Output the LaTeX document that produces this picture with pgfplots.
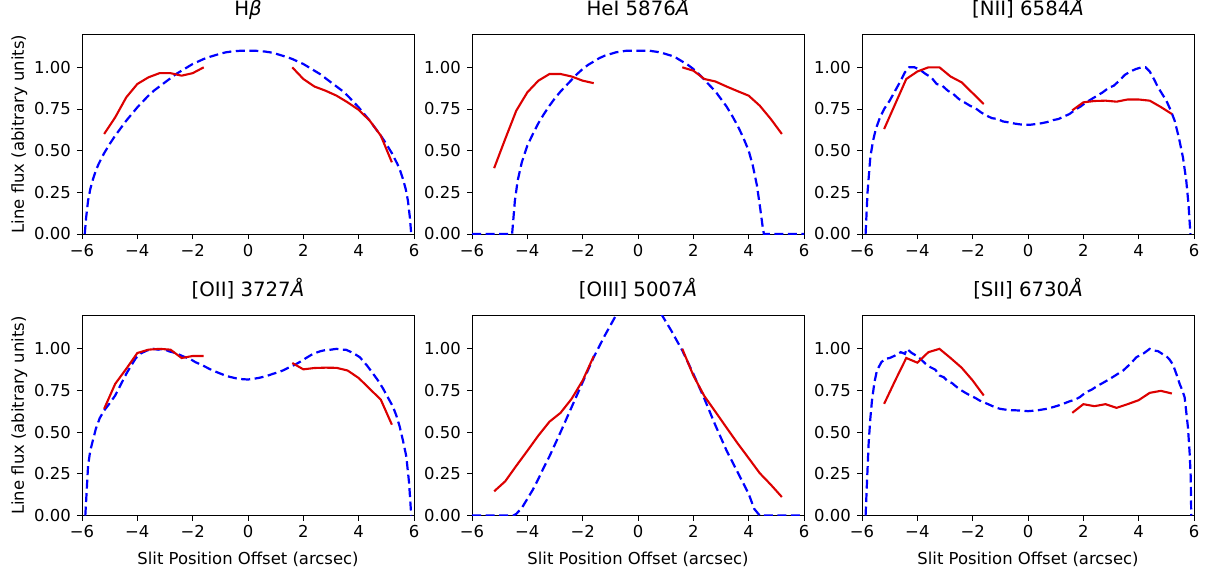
\documentclass[border=0pt]{standalone}
\usepackage{fontspec}
\setmainfont{DejaVu Sans}
\usepackage{pgfplots}
\pgfplotsset{compat=1.18}
\definecolor{myred}{RGB}{220,0,0}
\definecolor{myblue}{RGB}{0,0,255}
\pgfplotsset{
  panel/.style={
    scale only axis, width=332bp, height=200bp,
    xmin=-6, xmax=6, ymin=0, ymax=1.2,
    xtick={-6,-4,-2,0,2,4,6}, xticklabels={−6,−4,−2,0,2,4,6},
    ytick={0,0.25,0.5,0.75,1}, yticklabels={0.00,0.25,0.50,0.75,1.00},
    tick pos=left, tick align=outside, major tick length=5bp,
    axis line style={line width=1bp},
    every tick/.style={black, line width=1bp},
    ticklabel style={font=\fontsize{16.5}{18}\selectfont, inner sep=0pt},
    xticklabel style={anchor=base, yshift=-17bp},
    yticklabel style={anchor=east, xshift=-6bp},
    title style={font=\fontsize{19.8}{22}\selectfont, anchor=base, at={(axis description cs:0.5,1.065)}},
    every axis y label/.style={at={(axis description cs:-0.1747,0.5)}, rotate=90, anchor=base, font=\fontsize{16.5}{18}\selectfont},
    every axis x label/.style={at={(axis description cs:0.5,-0.245)}, anchor=base, font=\fontsize{16.5}{18}\selectfont},
    anchor=south west,
  },
  red line/.style={myred, line width=2.1bp},
  blue line/.style={myblue, line width=2.2bp, dash pattern=on 9bp off 4.5bp},
}
\begin{document}
\begin{tikzpicture}
\useasboundingbox (0,0) rectangle (1209bp,-575bp);
% ---------------- H beta
\begin{axis}[panel, at={(82bp,-234bp)}, title={H{\itshape β}}, ylabel={Line flux (abitrary units)}]
\addplot[blue line] coordinates {(-5.9,0) (-5.85,0.1) (-5.78,0.2) (-5.7,0.27) (-5.6,0.33) (-5.5,0.38) (-5.4,0.42) (-5.2,0.485) (-5.0,0.54) (-4.8,0.59) (-4.6,0.635) (-4.4,0.68) (-4.2,0.72) (-4.0,0.76) (-3.8,0.795) (-3.6,0.83) (-3.4,0.86) (-3.2,0.885) (-3.0,0.91) (-2.8,0.935) (-2.6,0.96) (-2.4,0.98) (-2.2,1.0) (-2.0,1.02) (-1.8,1.035) (-1.6,1.05) (-1.4,1.062) (-1.2,1.072) (-1.0,1.082) (-0.8,1.09) (-0.6,1.095) (-0.4,1.098) (-0.2,1.1) (0,1.1) (0.2,1.1) (0.4,1.098) (0.6,1.095) (0.8,1.09) (1.0,1.082) (1.2,1.072) (1.4,1.062) (1.6,1.05) (1.8,1.035) (2.0,1.02) (2.2,1.0) (2.4,0.98) (2.6,0.96) (2.8,0.935) (3.0,0.91) (3.2,0.885) (3.4,0.86) (3.6,0.83) (3.8,0.795) (4.0,0.76) (4.2,0.72) (4.4,0.68) (4.6,0.635) (4.8,0.59) (5.0,0.54) (5.2,0.485) (5.4,0.42) (5.5,0.38) (5.6,0.33) (5.7,0.27) (5.78,0.2) (5.85,0.1) (5.9,0)};
\addplot[red line] coordinates {(-5.2,0.60) (-4.8,0.70) (-4.4,0.82) (-4.0,0.90) (-3.6,0.94) (-3.2,0.965) (-2.8,0.965) (-2.4,0.95) (-2.0,0.965) (-1.6,1.0)};
\addplot[red line] coordinates {(1.6,1.0) (2.0,0.93) (2.4,0.885) (2.8,0.86) (3.2,0.83) (3.6,0.79) (4.0,0.745) (4.4,0.68) (4.8,0.59) (5.2,0.43)};
\end{axis}
% ---------------- HeI
\begin{axis}[panel, at={(472bp,-234bp)}, title={HeI 5876{\itshape Å}}]
\addplot[blue line] coordinates {(-6,0) (-4.55,0) (-4.5,0.1) (-4.45,0.2) (-4.35,0.32) (-4.2,0.43) (-4.0,0.53) (-3.8,0.6) (-3.6,0.665) (-3.4,0.72) (-3.2,0.77) (-3.0,0.815) (-2.8,0.855) (-2.6,0.89) (-2.4,0.925) (-2.2,0.96) (-2.0,0.99) (-1.8,1.015) (-1.6,1.035) (-1.4,1.055) (-1.2,1.07) (-1.0,1.08) (-0.8,1.09) (-0.6,1.095) (-0.4,1.1) (-0.2,1.1) (0,1.1) (0.2,1.1) (0.4,1.1) (0.6,1.095) (0.8,1.09) (1.0,1.08) (1.2,1.07) (1.4,1.055) (1.6,1.035) (1.8,1.015) (2.0,0.99) (2.2,0.96) (2.4,0.925) (2.6,0.89) (2.8,0.855) (3.0,0.81) (3.2,0.765) (3.4,0.71) (3.6,0.65) (3.8,0.58) (4.0,0.50) (4.15,0.41) (4.3,0.29) (4.42,0.15) (4.5,0.05) (4.55,0) (6,0)};
\addplot[red line] coordinates {(-5.2,0.395) (-4.8,0.57) (-4.4,0.74) (-4.0,0.85) (-3.6,0.92) (-3.2,0.96) (-2.8,0.96) (-2.4,0.945) (-2.0,0.92) (-1.6,0.905)};
\addplot[red line] coordinates {(1.6,1.0) (2.0,0.98) (2.4,0.93) (2.8,0.915) (3.2,0.885) (3.6,0.857) (4.0,0.83) (4.4,0.77) (4.8,0.69) (5.2,0.60)};
\end{axis}
% ---------------- [NII]
\begin{axis}[panel, at={(862bp,-234bp)}, title={[NII] 6584{\itshape Å}}]
\addplot[blue line] coordinates {(-5.87,0) (-5.8,0.25) (-5.7,0.46) (-5.6,0.56) (-5.5,0.63) (-5.35,0.70) (-5.2,0.75) (-5.0,0.80) (-4.8,0.86) (-4.6,0.92) (-4.45,0.97) (-4.3,1.0) (-4.1,1.0) (-3.9,0.985) (-3.7,0.96) (-3.5,0.94) (-3.3,0.9) (-3.1,0.89) (-2.9,0.86) (-2.7,0.84) (-2.5,0.81) (-2.3,0.79) (-2.1,0.77) (-1.9,0.755) (-1.7,0.73) (-1.5,0.71) (-1.3,0.695) (-1.1,0.69) (-0.9,0.675) (-0.7,0.67) (-0.5,0.663) (-0.3,0.658) (-0.1,0.655) (0.1,0.656) (0.3,0.66) (0.5,0.665) (0.7,0.672) (0.9,0.683) (1.1,0.69) (1.3,0.705) (1.5,0.72) (1.7,0.745) (1.9,0.765) (2.1,0.79) (2.3,0.81) (2.5,0.83) (2.7,0.85) (2.9,0.875) (3.1,0.89) (3.3,0.92) (3.5,0.955) (3.7,0.975) (3.9,0.99) (4.1,1.0) (4.25,1.0) (4.4,0.975) (4.55,0.93) (4.7,0.88) (4.85,0.84) (5.0,0.8) (5.15,0.745) (5.3,0.68) (5.45,0.58) (5.6,0.46) (5.72,0.32) (5.8,0.18) (5.87,0)};
\addplot[red line] coordinates {(-5.2,0.63) (-4.8,0.78) (-4.4,0.93) (-4.0,0.975) (-3.6,1.0) (-3.2,1.0) (-2.8,0.945) (-2.4,0.91) (-2.0,0.845) (-1.6,0.78)};
\addplot[red line] coordinates {(1.6,0.742) (2.0,0.79) (2.4,0.798) (2.8,0.80) (3.2,0.794) (3.6,0.807) (4.0,0.807) (4.4,0.80) (4.8,0.762) (5.2,0.72)};
\end{axis}
% ---------------- [OII]
\begin{axis}[panel, at={(82bp,-515.5bp)}, title={[OII] 3727{\itshape Å}}, ylabel={Line flux (abitrary units)}, xlabel={Slit Position Offset (arcsec)}]
\addplot[blue line] coordinates {(-5.88,0) (-5.83,0.15) (-5.78,0.30) (-5.7,0.39) (-5.6,0.455) (-5.5,0.52) (-5.36,0.584) (-5.2,0.63) (-5.0,0.673) (-4.8,0.72) (-4.64,0.772) (-4.4,0.85) (-4.22,0.90) (-4.05,0.945) (-3.86,0.974) (-3.65,0.99) (-3.43,1.0) (-3.25,0.995) (-3.07,1.0) (-2.85,0.985) (-2.6,0.974) (-2.35,0.955) (-2.11,0.941) (-1.9,0.92) (-1.63,0.90) (-1.4,0.88) (-1.14,0.861) (-0.9,0.845) (-0.66,0.832) (-0.4,0.822) (-0.2,0.818) (0,0.816) (0.2,0.82) (0.4,0.826) (0.66,0.836) (0.9,0.85) (1.1,0.86) (1.27,0.871) (1.5,0.89) (1.7,0.905) (1.87,0.921) (2.1,0.945) (2.35,0.97) (2.6,0.985) (2.83,0.994) (3.0,0.995) (3.19,1.0) (3.4,0.995) (3.55,0.994) (3.8,0.975) (4.04,0.95) (4.3,0.9) (4.52,0.851) (4.7,0.81) (4.88,0.762) (5.05,0.71) (5.24,0.653) (5.36,0.60) (5.48,0.535) (5.6,0.45) (5.72,0.356) (5.82,0.2) (5.9,0)};
\addplot[red line] coordinates {(-5.2,0.64) (-4.8,0.79) (-4.4,0.88) (-4.0,0.975) (-3.6,0.995) (-3.2,1.0) (-2.8,0.995) (-2.4,0.945) (-2.0,0.957) (-1.6,0.957)};
\addplot[red line] coordinates {(1.6,0.915) (2.0,0.877) (2.4,0.885) (2.8,0.887) (3.2,0.886) (3.6,0.87) (4.0,0.825) (4.4,0.76) (4.8,0.695) (5.2,0.545)};
\end{axis}
% ---------------- [OIII]
\begin{axis}[panel, at={(472bp,-515.5bp)}, title={[OIII] 5007{\itshape Å}}, xlabel={Slit Position Offset (arcsec)}]
\addplot[blue line] coordinates {(-6,0) (-4.5,0) (-4.4,0.01) (-4.2,0.045) (-4.0,0.10) (-3.8,0.155) (-3.6,0.22) (-3.4,0.29) (-3.2,0.355) (-2.8,0.50) (-2.4,0.65) (-2.0,0.80) (-1.6,0.95) (-1.2,1.08) (-0.8,1.2) (-0.4,1.32) (0,1.36) (0.4,1.32) (0.8,1.22) (1.2,1.11) (1.6,0.99) (2.0,0.85) (2.4,0.70) (2.8,0.54) (3.2,0.39) (3.6,0.26) (4.0,0.13) (4.2,0.04) (4.4,0.0) (6,0)};
\addplot[red line] coordinates {(-5.2,0.145) (-4.8,0.205) (-4.4,0.298) (-4.0,0.388) (-3.6,0.48) (-3.2,0.563) (-2.8,0.616) (-2.4,0.70) (-2.0,0.81) (-1.6,0.956)};
\addplot[red line] coordinates {(1.6,1.0) (2.0,0.84) (2.4,0.716) (2.8,0.622) (3.2,0.527) (3.6,0.433) (4.0,0.344) (4.4,0.254) (4.8,0.185) (5.2,0.111)};
\end{axis}
% ---------------- [SII]
\begin{axis}[panel, at={(862bp,-515.5bp)}, title={[SII] 6730{\itshape Å}}, xlabel={Slit Position Offset (arcsec)}]
\addplot[blue line] coordinates {(-5.87,0) (-5.82,0.2) (-5.76,0.433) (-5.7,0.58) (-5.64,0.69) (-5.55,0.8) (-5.46,0.87) (-5.3,0.92) (-5.16,0.94) (-5.0,0.945) (-4.8,0.96) (-4.6,0.98) (-4.45,0.97) (-4.38,1.0) (-4.2,0.975) (-4.0,0.955) (-3.89,0.94) (-3.7,0.91) (-3.53,0.89) (-3.35,0.875) (-3.2,0.84) (-3.05,0.83) (-2.9,0.805) (-2.75,0.795) (-2.57,0.77) (-2.4,0.75) (-2.25,0.735) (-2.09,0.72) (-1.9,0.705) (-1.75,0.69) (-1.61,0.68) (-1.4,0.665) (-1.2,0.65) (-1.01,0.64) (-0.8,0.635) (-0.6,0.632) (-0.29,0.63) (0,0.626) (0.3,0.63) (0.67,0.64) (0.9,0.65) (1.1,0.66) (1.27,0.67) (1.5,0.685) (1.7,0.695) (1.87,0.71) (2.1,0.74) (2.3,0.755) (2.48,0.775) (2.7,0.795) (2.96,0.82) (3.2,0.845) (3.44,0.87) (3.7,0.91) (3.92,0.95) (4.2,0.975) (4.4,1.0) (4.55,0.99) (4.7,0.986) (4.85,0.97) (5.0,0.956) (5.12,0.935) (5.24,0.905) (5.36,0.85) (5.48,0.79) (5.58,0.75) (5.66,0.71) (5.72,0.62) (5.78,0.53) (5.84,0.38) (5.88,0.235) (5.9,0)};
\addplot[red line] coordinates {(-5.2,0.67) (-4.8,0.81) (-4.4,0.945) (-4.0,0.917) (-3.6,0.98) (-3.2,1.0) (-2.8,0.945) (-2.4,0.887) (-2.0,0.81) (-1.6,0.72)};
\addplot[red line] coordinates {(1.6,0.616) (2.0,0.668) (2.4,0.656) (2.8,0.668) (3.2,0.646) (3.6,0.668) (4.0,0.692) (4.4,0.736) (4.8,0.748) (5.2,0.732)};
\end{axis}
\end{tikzpicture}
\end{document}
